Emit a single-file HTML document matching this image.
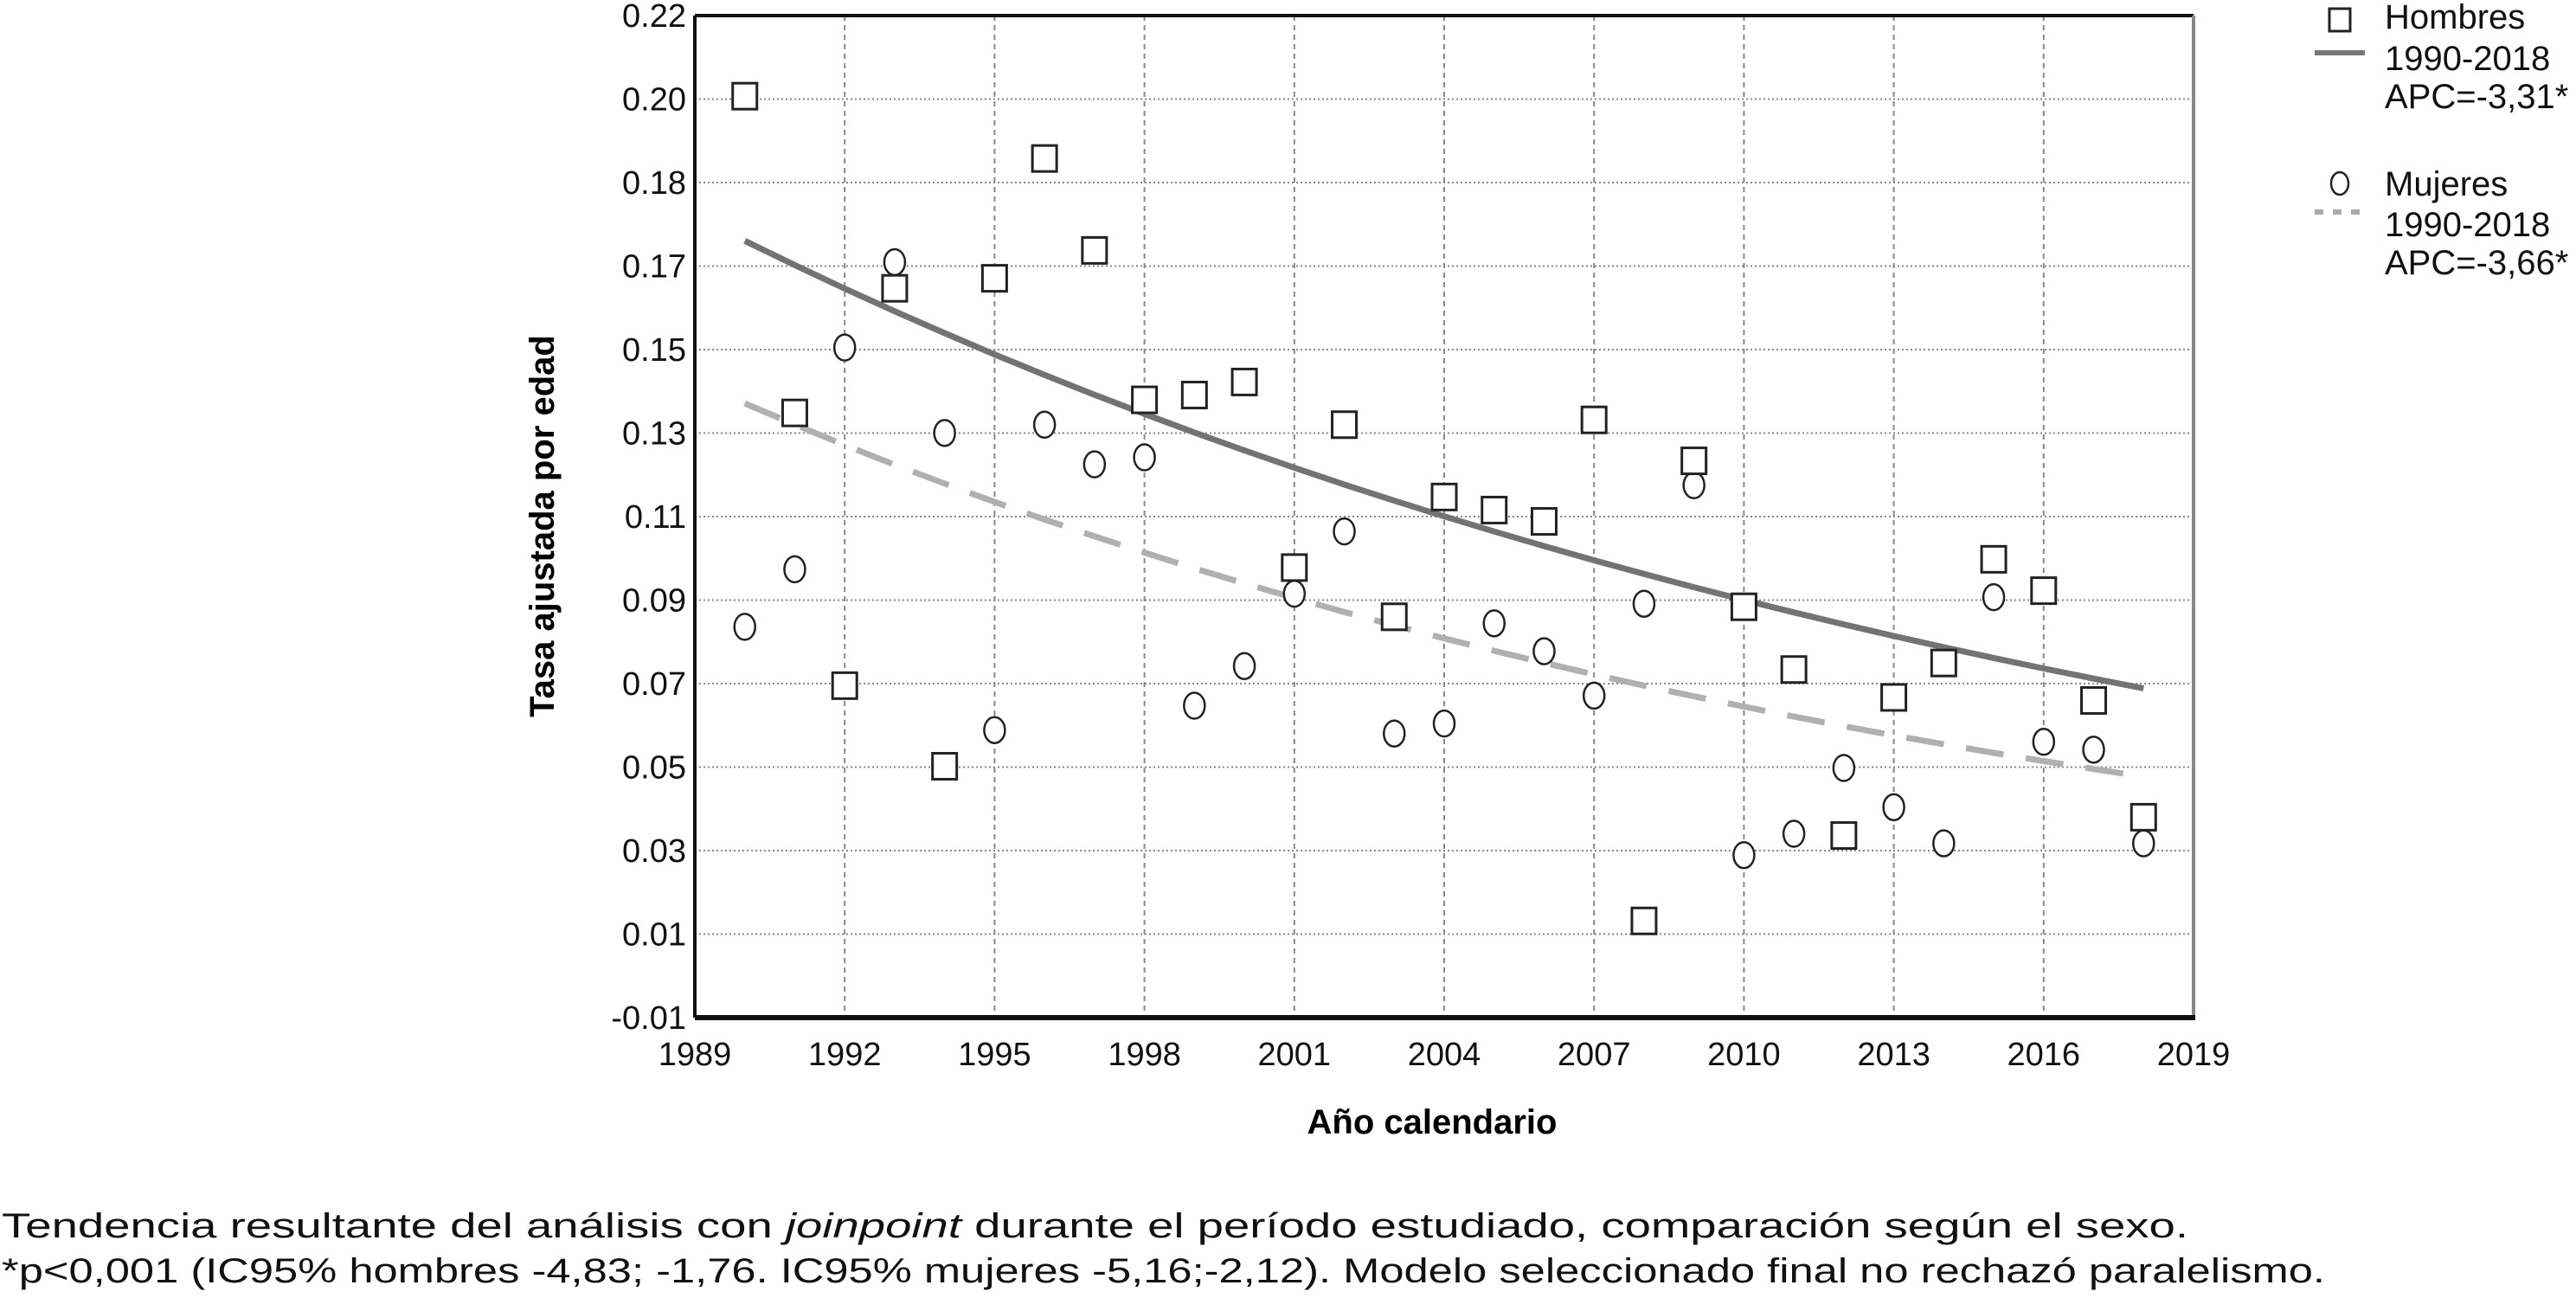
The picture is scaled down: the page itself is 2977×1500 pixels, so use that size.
<!DOCTYPE html>
<html><head><meta charset="utf-8">
<style>
html,body{margin:0;padding:0;background:#fff;}
svg{display:block;font-family:"Liberation Sans",sans-serif;}
</style></head>
<body>
<svg id="chart" width="2977" height="1500" viewBox="0 0 2977 1500" xmlns="http://www.w3.org/2000/svg">
<g id="grid"></g>
<g id="trends"></g>
<g id="marks"></g>
<g id="axes"></g>
<text x="1655" y="1310" font-size="40" font-weight="bold" text-anchor="middle">Año calendario</text>
<text transform="translate(640,608) rotate(-90)" font-size="40" font-weight="bold" text-anchor="middle">Tasa ajustada por edad</text>
<g>
  <rect x="2692" y="10" width="24" height="26" fill="#fff" stroke="#222" stroke-width="3"/>
  <line x1="2675" y1="61" x2="2733" y2="61" stroke="#777" stroke-width="6"/>
  <text font-size="40" fill="#111"><tspan x="2756" y="33">Hombres</tspan><tspan x="2756" y="81">1990-2018</tspan><tspan x="2756" y="125">APC=-3,31*</tspan></text>
  <ellipse cx="2704" cy="212" rx="10" ry="13" fill="#fff" stroke="#222" stroke-width="2.5"/>
  <line x1="2675" y1="245" x2="2733" y2="245" stroke="#aaa" stroke-width="6" stroke-dasharray="10,11"/>
  <text font-size="40" fill="#111"><tspan x="2756" y="226">Mujeres</tspan><tspan x="2756" y="273">1990-2018</tspan><tspan x="2756" y="317">APC=-3,66*</tspan></text>
</g>
<g font-size="40" fill="#111">
  <text x="2" y="1430" textLength="2527" lengthAdjust="spacingAndGlyphs">Tendencia resultante del análisis con <tspan font-style="italic">joinpoint</tspan> durante el período estudiado, comparación según el sexo.</text>
  <text x="2" y="1482" textLength="2685" lengthAdjust="spacingAndGlyphs">*p&lt;0,001 (IC95% hombres -4,83; -1,76. IC95% mujeres -5,16;-2,12). Modelo seleccionado final no rechazó paralelismo.</text>
</g>
</svg>
<script>
const years = [1990,1991,1992,1993,1994,1995,1996,1997,1998,1999,2000,2001,2002,2003,2004,2005,2006,2007,2008,2009,2010,2011,2012,2013,2014,2015,2016,2017,2018];
const hombres = [0.2015,0.1288,0.0662,0.1574,0.0477,0.1597,0.1872,0.1661,0.1318,0.1329,0.1359,0.0933,0.1261,0.0820,0.1095,0.1065,0.1039,0.1272,0.0122,0.1178,0.0843,0.0699,0.0318,0.0635,0.0714,0.0952,0.0880,0.0628,0.0360];
const mujeres = [0.0797,0.0929,0.1438,0.1634,0.1242,0.0560,0.1261,0.1170,0.1186,0.0616,0.0707,0.0873,0.1016,0.0552,0.0575,0.0805,0.0741,0.0639,0.0850,0.1122,0.0273,0.0322,0.0473,0.0383,0.0300,0.0865,0.0533,0.0515,0.0300];
const trendStart = [0.1683,0.1310];
const trendApc = [-3.31,-3.72];
const xTicks = [1989,1992,1995,1998,2001,2004,2007,2010,2013,2016,2019];
const yTickLabels = ["0.22","0.20","0.18","0.17","0.15","0.13","0.11","0.09","0.07","0.05","0.03","0.01","-0.01"];

const NS="http://www.w3.org/2000/svg";
const L=803,R=2535,T=18,B=1176;
const xMin=1989,xMax=2019,yMin=-0.01,yMax=0.22;
function xs(v){return L+(v-xMin)/(xMax-xMin)*(R-L);}
function ys(v){return B-(v-yMin)/(yMax-yMin)*(B-T);}
function mk(tag,attrs,parent){const e=document.createElementNS(NS,tag);for(const k in attrs)e.setAttribute(k,attrs[k]);parent.appendChild(e);return e;}

const grid=document.getElementById('grid');
const axes=document.getElementById('axes');
yTickLabels.forEach((lab,i)=>{
  const y=T+i*(B-T)/(yTickLabels.length-1);
  if(i>0&&i<yTickLabels.length-1){
    const g=mk('line',{x1:L,x2:R,y1:y,y2:y,stroke:'#888','stroke-width':2,'stroke-dasharray':'2,3'},grid);
    
    
  }
  const t=mk('text',{x:L-10,y:y+13,'font-size':38,'text-anchor':'end',fill:'#111'},axes);
  t.textContent=lab;
  
  
});
xTicks.forEach((v,i)=>{
  const x=xs(v);
  if(i>0&&i<xTicks.length-1){
    const g=mk('line',{x1:x,x2:x,y1:T,y2:B,stroke:'#888','stroke-width':2,'stroke-dasharray':'6,5'},grid);
    
    
  }
  const t=mk('text',{x:x,y:1231,'font-size':38,'text-anchor':'middle',fill:'#111'},axes);
  t.textContent=v;
  
  
});
const b1=mk('line',{x1:L,x2:R,y1:T,y2:T,stroke:'#111','stroke-width':4},axes);


const b2=mk('line',{x1:L,x2:L,y1:T,y2:B,stroke:'#111','stroke-width':4},axes);


const b3=mk('line',{x1:R,x2:R,y1:T,y2:B,stroke:'#888','stroke-width':4},axes);


const b4=mk('line',{x1:L,x2:R+2,y1:B,y2:B,stroke:'#111','stroke-width':6},axes);



const trends=document.getElementById('trends');
const styles=[{stroke:'#737373',dash:'none',name:'trend-hombres'},{stroke:'#b0b0b0',dash:'44,26',name:'trend-mujeres'}];
trendStart.forEach((s,k)=>{
  let d='';
  years.forEach((yr,i)=>{
    const v=s*Math.pow(1+trendApc[k]/100,yr-years[0]);
    d+=(i?'L':'M')+xs(yr).toFixed(1)+','+ys(v).toFixed(1);
  });
  const p=mk('path',{d:d,fill:'none',stroke:styles[k].stroke,'stroke-width':7,'stroke-dasharray':styles[k].dash},trends);
  
  
});

const marks=document.getElementById('marks');
mujeres.forEach((v,i)=>{
  const c=mk('ellipse',{cx:xs(years[i]),cy:ys(v),rx:12,ry:15,fill:'#fff',stroke:'#222','stroke-width':2.5},marks);
  
  
});
hombres.forEach((v,i)=>{
  const r=mk('rect',{x:xs(years[i])-14,y:ys(v)-15,width:28,height:30,fill:'#fff',stroke:'#222','stroke-width':3},marks);
  
  
});
</script>
</body></html>
